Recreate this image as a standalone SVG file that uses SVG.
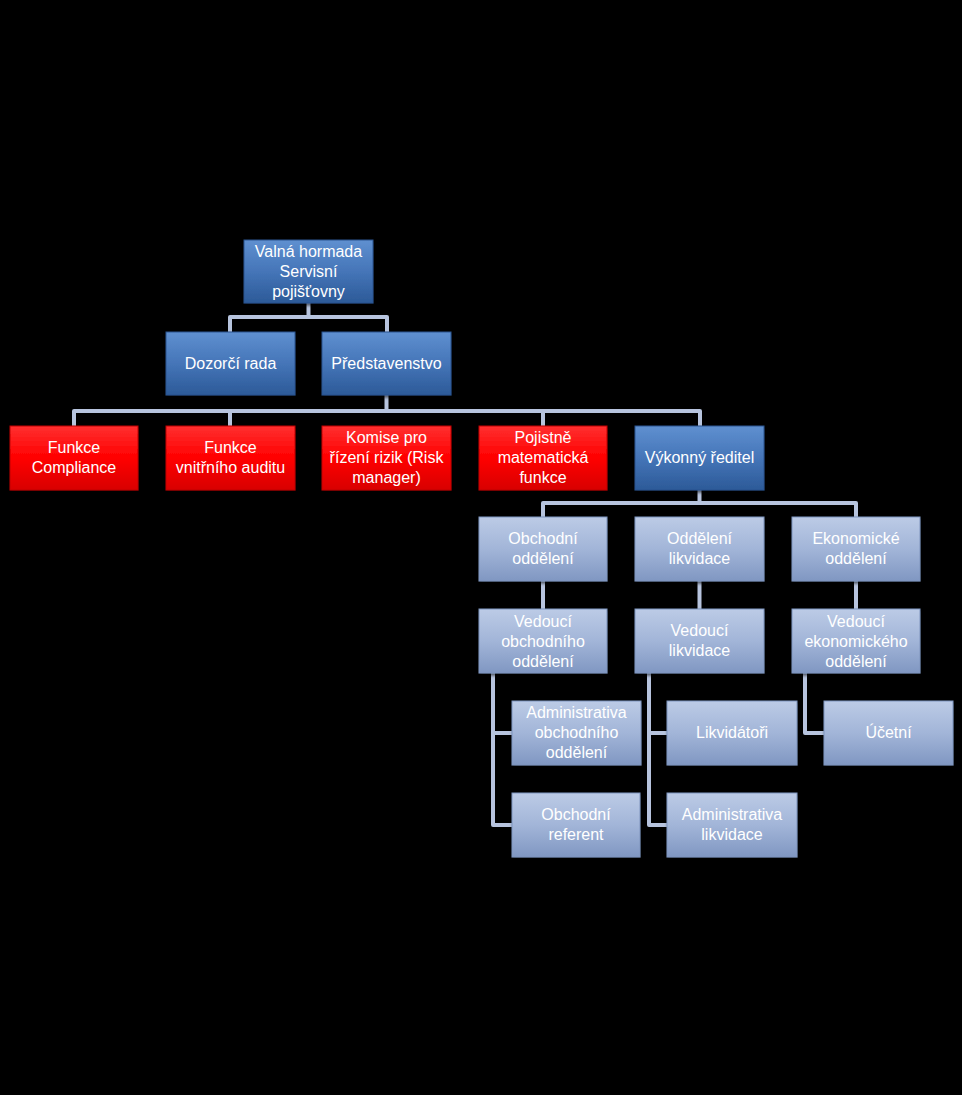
<svg xmlns="http://www.w3.org/2000/svg" width="962" height="1095" viewBox="0 0 962 1095">
<defs>
<linearGradient id="gBlue" x1="0" y1="0" x2="0" y2="1"><stop offset="0" stop-color="#5f90d0"/><stop offset="0.5" stop-color="#4575b8"/><stop offset="1" stop-color="#2c5a98"/></linearGradient>
<linearGradient id="gRed" x1="0" y1="0" x2="0" y2="1"><stop offset="0" stop-color="#ff3030"/><stop offset="0.5" stop-color="#ff0000"/><stop offset="1" stop-color="#d80000"/></linearGradient>
<linearGradient id="gLight" x1="0" y1="0" x2="0" y2="1"><stop offset="0" stop-color="#bccbe6"/><stop offset="0.5" stop-color="#a2b5d8"/><stop offset="1" stop-color="#8097c2"/></linearGradient>
<filter id="sh" x="-10%" y="-10%" width="130%" height="140%"><feDropShadow dx="1" dy="2" stdDeviation="1.5" flood-color="#000" flood-opacity="0.6"/></filter>
</defs>
<style>
.b{fill:url(#gBlue);filter:url(#sh);stroke:#2a5590;stroke-width:1}
.r{fill:url(#gRed);filter:url(#sh);stroke:#c00000;stroke-width:1}
.l{fill:url(#gLight);filter:url(#sh);stroke:#7f95bf;stroke-width:1}
text{font-family:"Liberation Sans",Arial,sans-serif;font-size:16px;fill:#fff;text-anchor:middle}
.c{fill:none;stroke:#b7c4de;stroke-width:4;stroke-linejoin:round}
</style>
<rect x="0" y="0" width="962" height="1095" fill="#000"/>
<g id="connectors">
<path class="c" d="M308.5,303 V317 M230,332 V317 H387 V332"/>
<path class="c" d="M386.5,395 V411 M74,426 V411 H700 V426 M230,411 V426 M543,411 V426"/>
<path class="c" d="M699.5,490 V503 M543,517 V503 H856 V517"/>
<path class="c" d="M543,581 V609 M699.5,581 V609 M856,581 V609"/>
<path class="c" d="M493,673 V825 H512 M493,733 H512"/>
<path class="c" d="M649,673 V825 H667 M649,733 H667"/>
<path class="c" d="M805,673 V733 H824"/>
</g>
<g id="n-valna"><rect class="b" x="244" y="240" width="129" height="63"/><text x="308.5" y="257">Valná hormada</text><text x="308.5" y="277">Servisní</text><text x="308.5" y="297">pojišťovny</text></g>
<g id="n-dozorci"><rect class="b" x="166" y="332" width="129" height="63"/><text x="230.5" y="369">Dozorčí rada</text></g>
<g id="n-predstavenstvo"><rect class="b" x="322" y="332" width="129" height="63"/><text x="386.5" y="369">Představenstvo</text></g>
<g id="n-compliance"><rect class="r" x="10" y="426" width="128" height="64"/><text x="74" y="453">Funkce</text><text x="74" y="473">Compliance</text></g>
<g id="n-audit"><rect class="r" x="166" y="426" width="129" height="64"/><text x="230.5" y="453">Funkce</text><text x="230.5" y="473">vnitřního auditu</text></g>
<g id="n-komise"><rect class="r" x="322" y="426" width="129" height="64"/><text x="386.5" y="443">Komise pro</text><text x="386.5" y="463">řízení rizik (Risk</text><text x="386.5" y="483">manager)</text></g>
<g id="n-pojistne"><rect class="r" x="479" y="426" width="128" height="64"/><text x="543" y="443">Pojistně</text><text x="543" y="463">matematická</text><text x="543" y="483">funkce</text></g>
<g id="n-vykonny"><rect class="b" x="635" y="426" width="129" height="64"/><text x="699.5" y="463">Výkonný ředitel</text></g>
<g id="n-obchodni"><rect class="l" x="479" y="517" width="128" height="64"/><text x="543" y="544">Obchodní</text><text x="543" y="564">oddělení</text></g>
<g id="n-likvidace"><rect class="l" x="635" y="517" width="129" height="64"/><text x="699.5" y="544">Oddělení</text><text x="699.5" y="564">likvidace</text></g>
<g id="n-ekonomicke"><rect class="l" x="792" y="517" width="128" height="64"/><text x="856" y="544">Ekonomické</text><text x="856" y="564">oddělení</text></g>
<g id="n-ved-obch"><rect class="l" x="479" y="609" width="128" height="64"/><text x="543" y="627">Vedoucí</text><text x="543" y="647">obchodního</text><text x="543" y="667">oddělení</text></g>
<g id="n-ved-likv"><rect class="l" x="635" y="609" width="129" height="64"/><text x="699.5" y="636">Vedoucí</text><text x="699.5" y="656">likvidace</text></g>
<g id="n-ved-ekon"><rect class="l" x="792" y="609" width="128" height="64"/><text x="856" y="627">Vedoucí</text><text x="856" y="647">ekonomického</text><text x="856" y="667">oddělení</text></g>
<g id="n-admin-obch"><rect class="l" x="512" y="701" width="129" height="64"/><text x="576.5" y="718">Administrativa</text><text x="576.5" y="738">obchodního</text><text x="576.5" y="758">oddělení</text></g>
<g id="n-likvidatori"><rect class="l" x="667" y="701" width="130" height="64"/><text x="732" y="738">Likvidátoři</text></g>
<g id="n-ucetni"><rect class="l" x="824" y="701" width="129" height="64"/><text x="888.5" y="738">Účetní</text></g>
<g id="n-referent"><rect class="l" x="512" y="793" width="128" height="64"/><text x="576" y="820">Obchodní</text><text x="576" y="840">referent</text></g>
<g id="n-admin-likv"><rect class="l" x="667" y="793" width="130" height="64"/><text x="732" y="820">Administrativa</text><text x="732" y="840">likvidace</text></g>
</svg>
